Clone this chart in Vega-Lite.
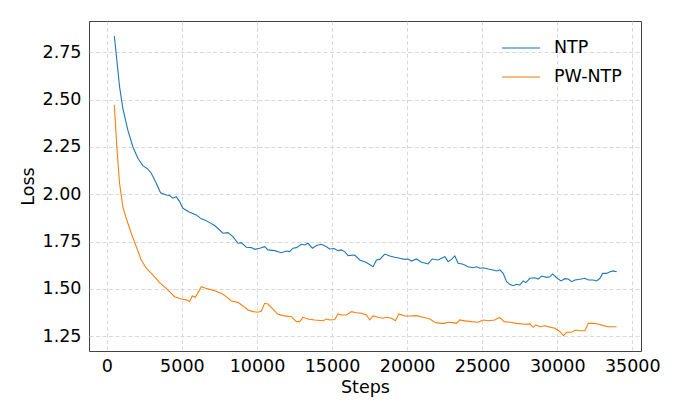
{
  "$schema": "https://vega.github.io/schema/vega-lite/v6.json",
  "width": 552,
  "height": 330,
  "autosize": {"type": "none"},
  "padding": {"left": 89, "top": 21, "right": 42, "bottom": 67},
  "background": "white",
  "config": {
    "font": "DejaVu Sans",
    "view": {"stroke": "#444", "strokeWidth": 1},
    "axis": {
      "labelFont": "DejaVu Sans",
      "titleFont": "DejaVu Sans",
      "labelFontSize": 17.5,
      "titleFontSize": 17.5,
      "titleFontWeight": "normal",
      "labelColor": "#000",
      "titleColor": "#000",
      "domain": false,
      "ticks": false,
      "gridColor": "#cfcfcf",
      "gridDash": [4, 2.5],
      "gridWidth": 0.8
    },
    "legend": {
      "labelFont": "DejaVu Sans",
      "labelFontSize": 17.5,
      "labelColor": "#000"
    }
  },
  "data": {
    "values": [
      {"step": 500, "loss": 2.835, "run": "NTP"},
      {"step": 667, "loss": 2.709, "run": "NTP"},
      {"step": 847, "loss": 2.568, "run": "NTP"},
      {"step": 1067, "loss": 2.454, "run": "NTP"},
      {"step": 1400, "loss": 2.339, "run": "NTP"},
      {"step": 1733, "loss": 2.251, "run": "NTP"},
      {"step": 2067, "loss": 2.19, "run": "NTP"},
      {"step": 2400, "loss": 2.151, "run": "NTP"},
      {"step": 2733, "loss": 2.133, "run": "NTP"},
      {"step": 2960, "loss": 2.111, "run": "NTP"},
      {"step": 3293, "loss": 2.058, "run": "NTP"},
      {"step": 3580, "loss": 2.008, "run": "NTP"},
      {"step": 3960, "loss": 1.996, "run": "NTP"},
      {"step": 4180, "loss": 1.993, "run": "NTP"},
      {"step": 4400, "loss": 1.979, "run": "NTP"},
      {"step": 4627, "loss": 1.987, "run": "NTP"},
      {"step": 4847, "loss": 1.961, "run": "NTP"},
      {"step": 5067, "loss": 1.926, "run": "NTP"},
      {"step": 5513, "loss": 1.905, "run": "NTP"},
      {"step": 5960, "loss": 1.891, "run": "NTP"},
      {"step": 6293, "loss": 1.87, "run": "NTP"},
      {"step": 6513, "loss": 1.864, "run": "NTP"},
      {"step": 6850, "loss": 1.85, "run": "NTP"},
      {"step": 7180, "loss": 1.835, "run": "NTP"},
      {"step": 7513, "loss": 1.811, "run": "NTP"},
      {"step": 7733, "loss": 1.794, "run": "NTP"},
      {"step": 8067, "loss": 1.797, "run": "NTP"},
      {"step": 8400, "loss": 1.776, "run": "NTP"},
      {"step": 8733, "loss": 1.741, "run": "NTP"},
      {"step": 8960, "loss": 1.744, "run": "NTP"},
      {"step": 9293, "loss": 1.72, "run": "NTP"},
      {"step": 9627, "loss": 1.718, "run": "NTP"},
      {"step": 9847, "loss": 1.709, "run": "NTP"},
      {"step": 10180, "loss": 1.715, "run": "NTP"},
      {"step": 10513, "loss": 1.723, "run": "NTP"},
      {"step": 10733, "loss": 1.706, "run": "NTP"},
      {"step": 11180, "loss": 1.702, "run": "NTP"},
      {"step": 11627, "loss": 1.691, "run": "NTP"},
      {"step": 11960, "loss": 1.7, "run": "NTP"},
      {"step": 12180, "loss": 1.697, "run": "NTP"},
      {"step": 12400, "loss": 1.715, "run": "NTP"},
      {"step": 12627, "loss": 1.718, "run": "NTP"},
      {"step": 12960, "loss": 1.736, "run": "NTP"},
      {"step": 13180, "loss": 1.732, "run": "NTP"},
      {"step": 13400, "loss": 1.741, "run": "NTP"},
      {"step": 13693, "loss": 1.715, "run": "NTP"},
      {"step": 13960, "loss": 1.729, "run": "NTP"},
      {"step": 14293, "loss": 1.736, "run": "NTP"},
      {"step": 14627, "loss": 1.723, "run": "NTP"},
      {"step": 14847, "loss": 1.711, "run": "NTP"},
      {"step": 15133, "loss": 1.713, "run": "NTP"},
      {"step": 15400, "loss": 1.702, "run": "NTP"},
      {"step": 15627, "loss": 1.706, "run": "NTP"},
      {"step": 15847, "loss": 1.697, "run": "NTP"},
      {"step": 16067, "loss": 1.676, "run": "NTP"},
      {"step": 16513, "loss": 1.679, "run": "NTP"},
      {"step": 16847, "loss": 1.653, "run": "NTP"},
      {"step": 17293, "loss": 1.639, "run": "NTP"},
      {"step": 17733, "loss": 1.617, "run": "NTP"},
      {"step": 17960, "loss": 1.653, "run": "NTP"},
      {"step": 18180, "loss": 1.656, "run": "NTP"},
      {"step": 18513, "loss": 1.684, "run": "NTP"},
      {"step": 18847, "loss": 1.674, "run": "NTP"},
      {"step": 19180, "loss": 1.667, "run": "NTP"},
      {"step": 19513, "loss": 1.662, "run": "NTP"},
      {"step": 19847, "loss": 1.656, "run": "NTP"},
      {"step": 20067, "loss": 1.658, "run": "NTP"},
      {"step": 20293, "loss": 1.647, "run": "NTP"},
      {"step": 20627, "loss": 1.658, "run": "NTP"},
      {"step": 20960, "loss": 1.641, "run": "NTP"},
      {"step": 21400, "loss": 1.632, "run": "NTP"},
      {"step": 21667, "loss": 1.658, "run": "NTP"},
      {"step": 22067, "loss": 1.653, "run": "NTP"},
      {"step": 22293, "loss": 1.662, "run": "NTP"},
      {"step": 22513, "loss": 1.67, "run": "NTP"},
      {"step": 22733, "loss": 1.644, "run": "NTP"},
      {"step": 22960, "loss": 1.656, "run": "NTP"},
      {"step": 23180, "loss": 1.674, "run": "NTP"},
      {"step": 23400, "loss": 1.635, "run": "NTP"},
      {"step": 23733, "loss": 1.63, "run": "NTP"},
      {"step": 24067, "loss": 1.617, "run": "NTP"},
      {"step": 24400, "loss": 1.612, "run": "NTP"},
      {"step": 24627, "loss": 1.617, "run": "NTP"},
      {"step": 24847, "loss": 1.609, "run": "NTP"},
      {"step": 25067, "loss": 1.612, "run": "NTP"},
      {"step": 25400, "loss": 1.605, "run": "NTP"},
      {"step": 25733, "loss": 1.6, "run": "NTP"},
      {"step": 25960, "loss": 1.595, "run": "NTP"},
      {"step": 26180, "loss": 1.6, "run": "NTP"},
      {"step": 26400, "loss": 1.582, "run": "NTP"},
      {"step": 26627, "loss": 1.538, "run": "NTP"},
      {"step": 26847, "loss": 1.524, "run": "NTP"},
      {"step": 27067, "loss": 1.517, "run": "NTP"},
      {"step": 27293, "loss": 1.524, "run": "NTP"},
      {"step": 27513, "loss": 1.521, "run": "NTP"},
      {"step": 27733, "loss": 1.542, "run": "NTP"},
      {"step": 27913, "loss": 1.533, "run": "NTP"},
      {"step": 28180, "loss": 1.556, "run": "NTP"},
      {"step": 28513, "loss": 1.559, "run": "NTP"},
      {"step": 28733, "loss": 1.552, "run": "NTP"},
      {"step": 28960, "loss": 1.568, "run": "NTP"},
      {"step": 29293, "loss": 1.561, "run": "NTP"},
      {"step": 29513, "loss": 1.564, "run": "NTP"},
      {"step": 29693, "loss": 1.579, "run": "NTP"},
      {"step": 29960, "loss": 1.559, "run": "NTP"},
      {"step": 30247, "loss": 1.542, "run": "NTP"},
      {"step": 30513, "loss": 1.554, "run": "NTP"},
      {"step": 30733, "loss": 1.552, "run": "NTP"},
      {"step": 30960, "loss": 1.538, "run": "NTP"},
      {"step": 31180, "loss": 1.547, "run": "NTP"},
      {"step": 31513, "loss": 1.551, "run": "NTP"},
      {"step": 31847, "loss": 1.556, "run": "NTP"},
      {"step": 32067, "loss": 1.547, "run": "NTP"},
      {"step": 32400, "loss": 1.547, "run": "NTP"},
      {"step": 32627, "loss": 1.542, "run": "NTP"},
      {"step": 32847, "loss": 1.556, "run": "NTP"},
      {"step": 33027, "loss": 1.582, "run": "NTP"},
      {"step": 33293, "loss": 1.582, "run": "NTP"},
      {"step": 33513, "loss": 1.591, "run": "NTP"},
      {"step": 33733, "loss": 1.595, "run": "NTP"},
      {"step": 33960, "loss": 1.591, "run": "NTP"},
      {"step": 500, "loss": 2.472, "run": "PW-NTP"},
      {"step": 667, "loss": 2.251, "run": "PW-NTP"},
      {"step": 847, "loss": 2.058, "run": "PW-NTP"},
      {"step": 1067, "loss": 1.934, "run": "PW-NTP"},
      {"step": 1293, "loss": 1.873, "run": "PW-NTP"},
      {"step": 1627, "loss": 1.794, "run": "PW-NTP"},
      {"step": 1960, "loss": 1.723, "run": "PW-NTP"},
      {"step": 2293, "loss": 1.653, "run": "PW-NTP"},
      {"step": 2627, "loss": 1.609, "run": "PW-NTP"},
      {"step": 3067, "loss": 1.574, "run": "PW-NTP"},
      {"step": 3513, "loss": 1.533, "run": "PW-NTP"},
      {"step": 3960, "loss": 1.503, "run": "PW-NTP"},
      {"step": 4513, "loss": 1.459, "run": "PW-NTP"},
      {"step": 4960, "loss": 1.447, "run": "PW-NTP"},
      {"step": 5293, "loss": 1.442, "run": "PW-NTP"},
      {"step": 5513, "loss": 1.433, "run": "PW-NTP"},
      {"step": 5693, "loss": 1.463, "run": "PW-NTP"},
      {"step": 5893, "loss": 1.456, "run": "PW-NTP"},
      {"step": 6293, "loss": 1.512, "run": "PW-NTP"},
      {"step": 6733, "loss": 1.5, "run": "PW-NTP"},
      {"step": 7180, "loss": 1.49, "run": "PW-NTP"},
      {"step": 7627, "loss": 1.477, "run": "PW-NTP"},
      {"step": 7960, "loss": 1.459, "run": "PW-NTP"},
      {"step": 8293, "loss": 1.436, "run": "PW-NTP"},
      {"step": 8733, "loss": 1.429, "run": "PW-NTP"},
      {"step": 9067, "loss": 1.41, "run": "PW-NTP"},
      {"step": 9400, "loss": 1.389, "run": "PW-NTP"},
      {"step": 9733, "loss": 1.38, "run": "PW-NTP"},
      {"step": 10067, "loss": 1.377, "run": "PW-NTP"},
      {"step": 10293, "loss": 1.383, "run": "PW-NTP"},
      {"step": 10513, "loss": 1.424, "run": "PW-NTP"},
      {"step": 10733, "loss": 1.42, "run": "PW-NTP"},
      {"step": 11000, "loss": 1.398, "run": "PW-NTP"},
      {"step": 11400, "loss": 1.366, "run": "PW-NTP"},
      {"step": 11733, "loss": 1.359, "run": "PW-NTP"},
      {"step": 12293, "loss": 1.353, "run": "PW-NTP"},
      {"step": 12627, "loss": 1.327, "run": "PW-NTP"},
      {"step": 12847, "loss": 1.327, "run": "PW-NTP"},
      {"step": 13067, "loss": 1.35, "run": "PW-NTP"},
      {"step": 13400, "loss": 1.341, "run": "PW-NTP"},
      {"step": 13847, "loss": 1.336, "run": "PW-NTP"},
      {"step": 14400, "loss": 1.332, "run": "PW-NTP"},
      {"step": 14627, "loss": 1.341, "run": "PW-NTP"},
      {"step": 14847, "loss": 1.336, "run": "PW-NTP"},
      {"step": 15180, "loss": 1.338, "run": "PW-NTP"},
      {"step": 15400, "loss": 1.368, "run": "PW-NTP"},
      {"step": 15627, "loss": 1.362, "run": "PW-NTP"},
      {"step": 15960, "loss": 1.362, "run": "PW-NTP"},
      {"step": 16293, "loss": 1.38, "run": "PW-NTP"},
      {"step": 16627, "loss": 1.374, "run": "PW-NTP"},
      {"step": 16960, "loss": 1.371, "run": "PW-NTP"},
      {"step": 17293, "loss": 1.362, "run": "PW-NTP"},
      {"step": 17513, "loss": 1.336, "run": "PW-NTP"},
      {"step": 17733, "loss": 1.357, "run": "PW-NTP"},
      {"step": 18067, "loss": 1.35, "run": "PW-NTP"},
      {"step": 18400, "loss": 1.345, "run": "PW-NTP"},
      {"step": 18627, "loss": 1.35, "run": "PW-NTP"},
      {"step": 18960, "loss": 1.345, "run": "PW-NTP"},
      {"step": 19227, "loss": 1.332, "run": "PW-NTP"},
      {"step": 19447, "loss": 1.368, "run": "PW-NTP"},
      {"step": 19847, "loss": 1.357, "run": "PW-NTP"},
      {"step": 20293, "loss": 1.357, "run": "PW-NTP"},
      {"step": 20627, "loss": 1.359, "run": "PW-NTP"},
      {"step": 21067, "loss": 1.35, "run": "PW-NTP"},
      {"step": 21513, "loss": 1.341, "run": "PW-NTP"},
      {"step": 21847, "loss": 1.324, "run": "PW-NTP"},
      {"step": 22180, "loss": 1.318, "run": "PW-NTP"},
      {"step": 22513, "loss": 1.318, "run": "PW-NTP"},
      {"step": 22733, "loss": 1.324, "run": "PW-NTP"},
      {"step": 23067, "loss": 1.322, "run": "PW-NTP"},
      {"step": 23293, "loss": 1.318, "run": "PW-NTP"},
      {"step": 23513, "loss": 1.336, "run": "PW-NTP"},
      {"step": 23847, "loss": 1.331, "run": "PW-NTP"},
      {"step": 24293, "loss": 1.327, "run": "PW-NTP"},
      {"step": 24733, "loss": 1.324, "run": "PW-NTP"},
      {"step": 25067, "loss": 1.336, "run": "PW-NTP"},
      {"step": 25400, "loss": 1.332, "run": "PW-NTP"},
      {"step": 25847, "loss": 1.336, "run": "PW-NTP"},
      {"step": 26027, "loss": 1.345, "run": "PW-NTP"},
      {"step": 26180, "loss": 1.348, "run": "PW-NTP"},
      {"step": 26467, "loss": 1.327, "run": "PW-NTP"},
      {"step": 26847, "loss": 1.324, "run": "PW-NTP"},
      {"step": 27293, "loss": 1.318, "run": "PW-NTP"},
      {"step": 27847, "loss": 1.313, "run": "PW-NTP"},
      {"step": 28180, "loss": 1.315, "run": "PW-NTP"},
      {"step": 28400, "loss": 1.297, "run": "PW-NTP"},
      {"step": 28580, "loss": 1.31, "run": "PW-NTP"},
      {"step": 28847, "loss": 1.3, "run": "PW-NTP"},
      {"step": 29180, "loss": 1.305, "run": "PW-NTP"},
      {"step": 29513, "loss": 1.298, "run": "PW-NTP"},
      {"step": 29847, "loss": 1.292, "run": "PW-NTP"},
      {"step": 30180, "loss": 1.274, "run": "PW-NTP"},
      {"step": 30420, "loss": 1.253, "run": "PW-NTP"},
      {"step": 30627, "loss": 1.271, "run": "PW-NTP"},
      {"step": 30960, "loss": 1.271, "run": "PW-NTP"},
      {"step": 31213, "loss": 1.283, "run": "PW-NTP"},
      {"step": 31513, "loss": 1.279, "run": "PW-NTP"},
      {"step": 31847, "loss": 1.279, "run": "PW-NTP"},
      {"step": 32067, "loss": 1.318, "run": "PW-NTP"},
      {"step": 32400, "loss": 1.318, "run": "PW-NTP"},
      {"step": 32733, "loss": 1.315, "run": "PW-NTP"},
      {"step": 33067, "loss": 1.306, "run": "PW-NTP"},
      {"step": 33400, "loss": 1.3, "run": "PW-NTP"},
      {"step": 33960, "loss": 1.3, "run": "PW-NTP"}
    ]
  },
  "mark": {"type": "line", "strokeWidth": 1.1},
  "encoding": {
    "x": {
      "field": "step",
      "type": "quantitative",
      "title": "Steps",
      "scale": {"domain": [-1187, 35580], "nice": false, "zero": false},
      "axis": {
        "values": [0, 5000, 10000, 15000, 20000, 25000, 30000, 35000],
        "format": "d",
        "labelPadding": 6,
        "titlePadding": 4
      }
    },
    "y": {
      "field": "loss",
      "type": "quantitative",
      "title": "Loss",
      "scale": {"domain": [1.172, 2.915], "nice": false, "zero": false},
      "axis": {
        "values": [1.25, 1.5, 1.75, 2.0, 2.25, 2.5, 2.75],
        "format": ".2f",
        "labelPadding": 8,
        "titlePadding": 5
      }
    },
    "color": {
      "field": "run",
      "type": "nominal",
      "scale": {"domain": ["NTP", "PW-NTP"], "range": ["#1f77b4", "#ff7f0e"]},
      "legend": {
        "title": null,
        "orient": "none",
        "legendX": 412,
        "legendY": 7,
        "symbolType": "stroke",
        "symbolSize": 1444,
        "symbolStrokeWidth": 1.3,
        "symbolOpacity": 0.7,
        "labelOffset": 13,
        "rowPadding": -13
      }
    }
  }
}
